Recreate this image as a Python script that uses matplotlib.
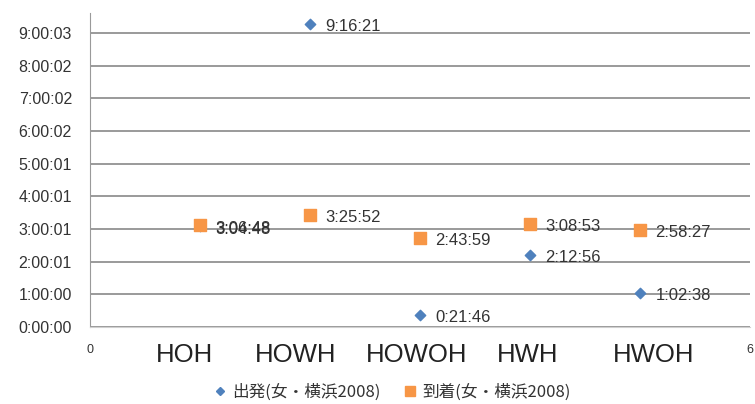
import matplotlib
matplotlib.use("Agg")
import matplotlib.pyplot as plt
from matplotlib.lines import Line2D

# route patterns and times (h:mm:ss)
patterns = ["HOH", "HOWH", "HOWOH", "HWH", "HWOH"]
depart = ["3:04:48", "9:16:21", "0:21:46", "2:12:56", "1:02:38"]
arrive = ["3:06:48", "3:25:52", "2:43:59", "3:08:53", "2:58:27"]
ytick_labels = ["0:00:00", "1:00:00", "2:00:01", "3:00:01", "4:00:01",
                "5:00:01", "6:00:02", "7:00:02", "8:00:02", "9:00:03"]
legend_names = ["出発(女・横浜2008)", "到着(女・横浜2008)"]


def to_sec(s):
    h, m, sec = s.split(":")
    return int(h) * 3600 + int(m) * 60 + int(sec)


dep_s = [to_sec(v) for v in depart]
arr_s = [to_sec(v) for v in arrive]
xs = list(range(1, len(patterns) + 1))

blue = "#4F81BD"
orange = "#F79646"
txt = "#333333"

plt.rcParams["font.family"] = ["Liberation Sans", "DejaVu Sans"]

fig = plt.figure(figsize=(7.55, 4.04), dpi=100)
ax = fig.add_axes([90 / 755, 1 - 327 / 404, 660 / 755, 314 / 404])

step = 3600.3  # axis major unit (slightly over one hour)
yticks = [i * step for i in range(len(ytick_labels))]
ax.set_ylim(0, 9.61 * 3600)
ax.set_xlim(0, 6)
ax.set_yticks(yticks)
ax.set_yticklabels(ytick_labels, fontsize=11.5, color=txt)
ax.set_xticks([0, 6])
ax.set_xticklabels(["0", "6"], fontsize=9, color=txt)
ax.tick_params(axis="both", length=0)
ax.tick_params(axis="y", pad=13)
ax.tick_params(axis="x", pad=12)

for y in yticks:
    ax.axhline(y, color="#7f7f7f", lw=1.1, zorder=0)

for side in ["top", "right"]:
    ax.spines[side].set_visible(False)
ax.spines["left"].set_color("#9a9a9a")
ax.spines["bottom"].set_color("#d0d0d0")

ax.scatter(xs, dep_s, marker="D", s=28, color=blue, zorder=3, clip_on=False)
ax.scatter(xs, arr_s, marker="s", s=70, color=orange, zorder=3, clip_on=False)

for x, y, lab in zip(xs, dep_s, depart):
    ax.annotate(lab, (x, y), xytext=(11, -2), textcoords="offset points",
                fontsize=12, color=txt, va="center", ha="left")
for x, y, lab in zip(xs, arr_s, arrive):
    ax.annotate(lab, (x, y), xytext=(11, -2), textcoords="offset points",
                fontsize=12, color=txt, va="center", ha="left")

# pattern names under the axis
name_x = [0.86, 1.87, 2.97, 3.98, 5.12]
for nx, name in zip(name_x, patterns):
    ax.text(nx, -0.09, name, transform=ax.get_xaxis_transform(),
            ha="center", va="center", fontsize=18.5, color="#222222")

handles = [
    Line2D([], [], marker="D", ls="", color=blue, markersize=4.5),
    Line2D([], [], marker="s", ls="", color=orange, markersize=7),
]
fig.legend(handles, legend_names, loc="center", bbox_to_anchor=(0.517, 0.03),
           ncol=2, frameon=False, handletextpad=0.1, columnspacing=1.2,
           handlelength=1.2,
           prop={"family": ["Noto Sans CJK JP", "DejaVu Sans"], "size": 12},
           labelcolor=txt)

fig.savefig("out.png", dpi=100)
